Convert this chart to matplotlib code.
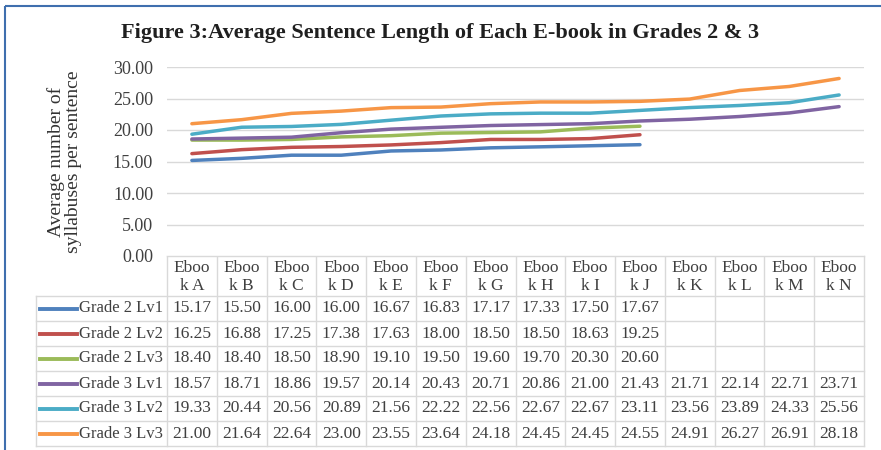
import matplotlib.pyplot as plt
from matplotlib.patches import Rectangle

books = ["A", "B", "C", "D", "E", "F", "G", "H", "I", "J", "K", "L", "M", "N"]
series_names = ["Grade 2 Lv1", "Grade 2 Lv2", "Grade 2 Lv3",
                "Grade 3 Lv1", "Grade 3 Lv2", "Grade 3 Lv3"]
g2_lv1 = [15.17, 15.50, 16.00, 16.00, 16.67, 16.83, 17.17, 17.33, 17.50, 17.67]
g2_lv2 = [16.25, 16.88, 17.25, 17.38, 17.63, 18.00, 18.50, 18.50, 18.63, 19.25]
g2_lv3 = [18.40, 18.40, 18.50, 18.90, 19.10, 19.50, 19.60, 19.70, 20.30, 20.60]
g3_lv1 = [18.57, 18.71, 18.86, 19.57, 20.14, 20.43, 20.71, 20.86, 21.00, 21.43,
          21.71, 22.14, 22.71, 23.71]
g3_lv2 = [19.33, 20.44, 20.56, 20.89, 21.56, 22.22, 22.56, 22.67, 22.67, 23.11,
          23.56, 23.89, 24.33, 25.56]
g3_lv3 = [21.00, 21.64, 22.64, 23.00, 23.55, 23.64, 24.18, 24.45, 24.45, 24.55,
          24.91, 26.27, 26.91, 28.18]
yticks = [0, 5, 10, 15, 20, 25, 30]

series = [g2_lv1, g2_lv2, g2_lv3, g3_lv1, g3_lv2, g3_lv3]
colors = ["#4F81BD", "#C0504D", "#9BBB59", "#8064A2", "#4BACC6", "#F79646"]

plt.rcParams["font.family"] = ["Liberation Serif", "DejaVu Serif"]
W, H = 881, 450
fig = plt.figure(figsize=(W / 100, H / 100), dpi=100)

# overlay in pixel coords for frame and table
bg = fig.add_axes([0, 0, 1, 1])
bg.set_xlim(0, W)
bg.set_ylim(H, 0)
bg.axis("off")
bg.add_patch(Rectangle((5, 6), W + 20, H + 20, fill=False, ec="#3F6FAE", lw=1.5, clip_on=False))

# plot area
x0, x1, ytop, ybot = 167, 864, 67, 256
ax = fig.add_axes([x0 / W, 1 - ybot / H, (x1 - x0) / W, (ybot - ytop) / H])
for vals, c in zip(series, colors):
    ax.plot(range(len(vals)), vals, color=c, lw=2.5, solid_capstyle="round")
ax.set_xlim(-0.5, len(books) - 0.5)
ax.set_ylim(0, 30)
ax.set_yticks(yticks)
ax.set_yticklabels([f"{v:.2f}" for v in yticks], fontsize=13, color="#404040")
ax.set_xticks([])
ax.grid(axis="y", color="#D9D9D9", lw=1)
ax.set_axisbelow(True)
ax.tick_params(axis="y", length=0, pad=10)
for s in ax.spines.values():
    s.set_visible(False)
ax.set_ylabel("Average number of\nsyllabuses per sentence", fontsize=14,
              color="#333333", linespacing=1.05, labelpad=22)

fig.text(0.5, 1 - 33 / H, "Figure 3:Average Sentence Length of Each E-book in Grades 2 & 3",
         ha="center", va="center", fontsize=16, fontweight="bold", color="#1F1F1F")

# data table under the plot
grid_c = "#D9D9D9"
cw = (x1 - x0) / len(books)
hdr_bot = 296
rh = 25
lab_l = 36
n = len(series)
bot = hdr_bot + n * rh
bg.plot([x0, x1], [ybot, ybot], color=grid_c, lw=1)
for j in range(len(books) + 1):
    bg.plot([x0 + j * cw] * 2, [ybot, bot], color=grid_c, lw=1)
bg.plot([lab_l, lab_l], [hdr_bot, bot], color=grid_c, lw=1)
for i in range(n + 1):
    bg.plot([lab_l, x1], [hdr_bot + i * rh] * 2, color=grid_c, lw=1)

fs = 12.5
for j, b in enumerate(books):
    bg.text(x0 + (j + 0.5) * cw, (ybot + hdr_bot) / 2 + 1, f"Eboo\nk {b}", ha="center",
            va="center", fontsize=fs, color="#404040", linespacing=1.2)

for i, (name, vals, c) in enumerate(zip(series_names, series, colors)):
    yc = hdr_bot + (i + 0.5) * rh
    bg.plot([40, 77], [yc, yc], color=c, lw=2.8)
    bg.text(79, yc, name, ha="left", va="center", fontsize=12, color="#404040")
    for j, v in enumerate(vals):
        bg.text(x0 + (j + 0.5) * cw, yc, f"{v:.2f}", ha="center", va="center",
                fontsize=fs, color="#404040")

fig.savefig("out.png", dpi=100)
